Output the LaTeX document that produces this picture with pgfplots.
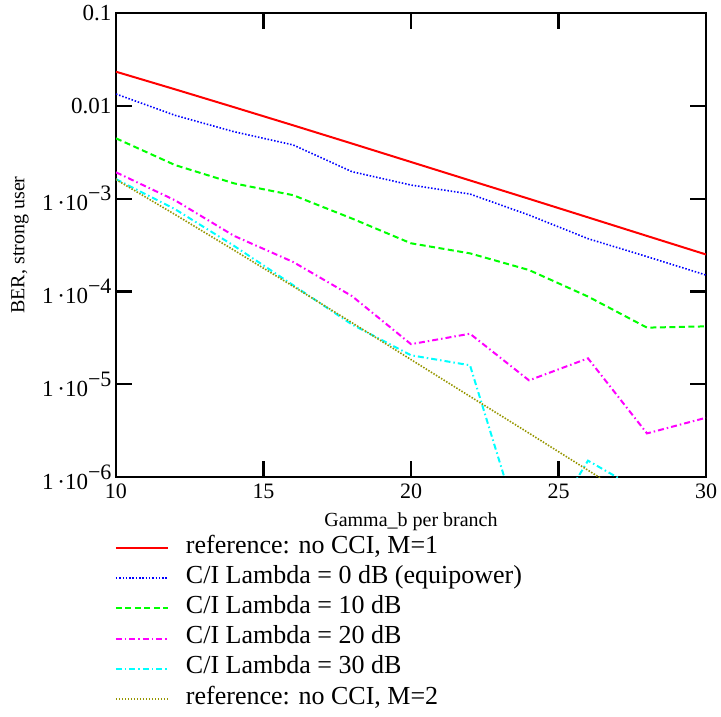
\documentclass[border=0pt]{standalone}
\usepackage{fontspec}
\setmainfont{Liberation Serif}
\usepackage{pgfplots}
\pgfplotsset{compat=1.18}
\definecolor{cRed}{RGB}{255,0,0}
\definecolor{cBlue}{RGB}{0,0,255}
\definecolor{cGreen}{RGB}{0,255,0}
\definecolor{cMag}{RGB}{255,0,255}
\definecolor{cCyan}{RGB}{0,255,255}
\definecolor{olivedot}{RGB}{150,150,0}
\newcommand{\pw}[1]{1\,·10\raisebox{10pt}{\fontsize{22}{22}\selectfont −#1}\hspace{15pt}}

\begin{document}
\begin{tikzpicture}
\begin{axis}[name=ax,
  scale only axis, width=590pt, height=464pt,
  xmin=10, xmax=30, ymode=log, ymin=1e-6, ymax=0.1,
  xtick={10,15,20,25,30}, xticklabels={10,15,20,25,30},
  ytick={1e-6,1e-5,1e-4,1e-3,0.01,0.1},
  yticklabels={\pw{6},\pw{5},\pw{4},\pw{3},0.01,0.1},
  yminorticks=false,
  tick align=inside, major tick length=16pt,
  axis line style={line width=2.2pt},
  every tick/.style={black,line width=2.2pt},
  yticklabel style={font=\fontsize{23}{25}\selectfont, xshift=-1pt},
  xticklabel style={font=\fontsize{22}{24}\selectfont, yshift=-3pt},
  xlabel={Gamma\_b per branch},
  xlabel style={at={(axis description cs:0.5,0)}, anchor=center, yshift=-45pt, font=\fontsize{20}{22}\selectfont},
  ylabel={BER, strong user},
  ylabel style={at={(axis description cs:-0.1627,0.5)}, anchor=center, font=\fontsize{20}{22}\selectfont},
  legend cell align=left,
  legend image code/.code={\draw[#1] (0pt,0pt) -- (52pt,0pt);},
  legend style={at={(axis description cs:0,0)}, anchor=north west, xshift=-1pt, yshift=-61pt,
    draw=none, fill=none, inner sep=0pt, outer sep=0pt, row sep=10.2pt, column sep=17pt,
    font=\fontsize{26}{28}\selectfont,
    nodes={inner sep=0pt, text height=15pt, text depth=5pt}},
]
\addplot[cRed, line width=2pt] coordinates {
  (10,0.0233) (12,0.01506) (14,0.00966) (16,0.00617) (18,0.00392) (20,0.00248)
  (22,0.00157) (24,0.000995) (26,0.000628) (28,0.000396) (30,0.00025)
};
\addlegendentry{reference: no CCI, M=1}
\addplot[cBlue, line width=1.6pt, dash pattern=on 1.5pt off 1.8pt] coordinates {
  (10,0.0134) (12,0.0079) (14,0.00526) (16,0.00379) (18,0.00195) (20,0.0014)
  (22,0.00112) (24,0.000665) (26,0.00037) (28,0.000237) (30,0.00015)
};
\addlegendentry{C/I Lambda = 0 dB (equipower)}
\addplot[cGreen, line width=2pt, dash pattern=on 6pt off 3.5pt] coordinates {
  (10,0.00446) (12,0.0023) (14,0.00146) (16,0.00109) (18,0.00061) (20,0.00033)
  (22,0.000257) (24,0.00017) (26,0.000088) (28,0.0000407) (30,0.000042)
};
\addlegendentry{C/I Lambda = 10 dB}
\addplot[cMag, line width=2pt, dash pattern=on 6pt off 3pt on 1.5pt off 3pt] coordinates {
  (10,0.00192) (12,0.00096) (14,0.000397) (16,0.000208) (18,0.000089) (20,0.000027)
  (22,0.000035) (24,0.000011) (26,0.000019) (28,0.00000295) (30,0.00000435)
};
\addlegendentry{C/I Lambda = 20 dB}
\addplot[cCyan, line width=2pt, dash pattern=on 6pt off 3pt on 1.5pt off 3pt] coordinates {
  (10,0.00162) (12,0.00077) (14,0.00031) (16,0.000117) (18,0.000044) (20,0.0000205)
  (22,0.000016) (24,0.000000135) (26,0.0000015) (28,0.00000065) (30,0.0000004)
};
\addlegendentry{C/I Lambda = 30 dB}
\addplot[olivedot, line width=1.6pt, dash pattern=on 1.5pt off 1.5pt] coordinates {
  (10,0.001604) (12,0.000674) (14,0.000278) (16,0.0001137) (18,0.000046) (20,0.00001842)
  (22,0.00000739) (24,0.000002968) (26,0.000001183) (28,0.00000047) (30,0.0000001875)
};
\addlegendentry{reference: no CCI, M=2}
\end{axis}
\pgfresetboundingbox
\path ([xshift=-116pt,yshift=-240pt]ax.south west) rectangle ([xshift=15pt,yshift=13pt]ax.north east);
\end{tikzpicture}
\end{document}
